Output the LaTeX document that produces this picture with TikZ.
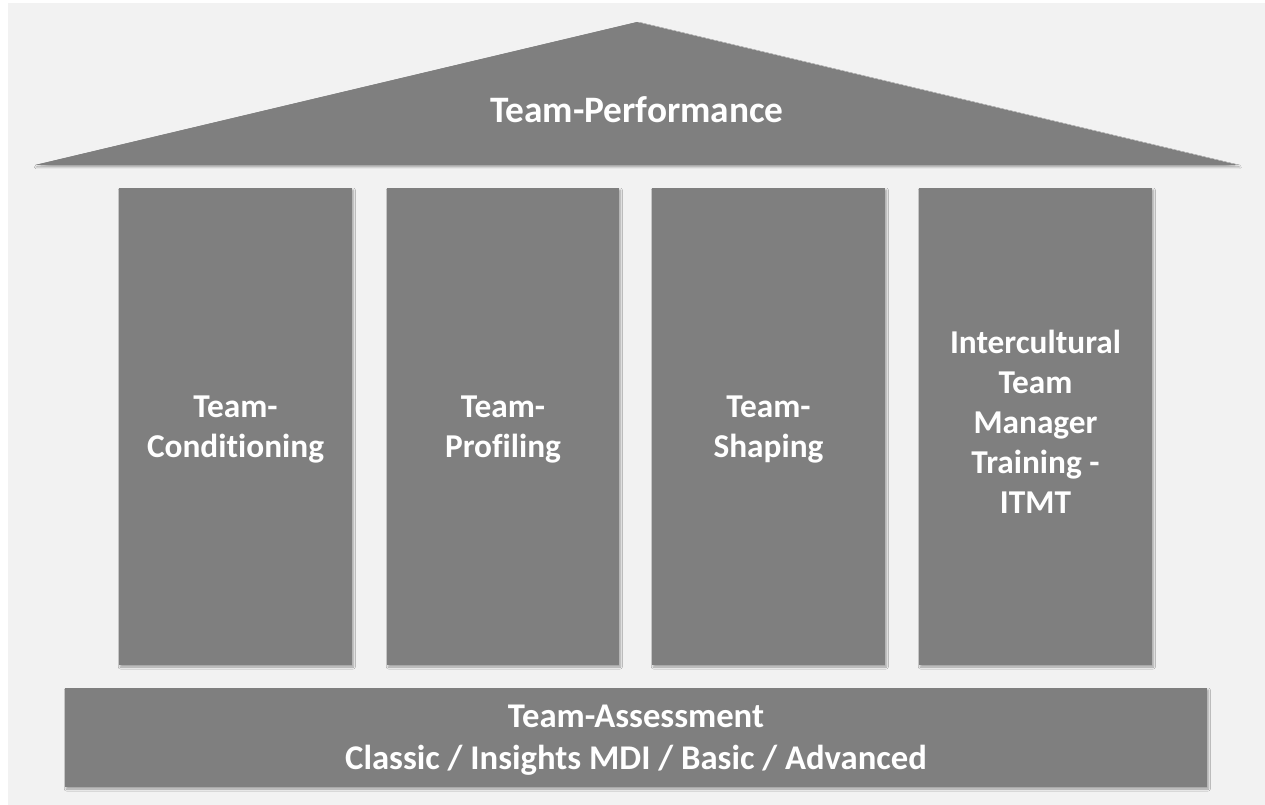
\documentclass[tikz,border=0pt]{standalone}
\usepackage{fontspec}
\setmainfont{Carlito}[Ligatures=NoCommon]
\usetikzlibrary{shadows.blur}
\definecolor{bgc}{HTML}{F2F2F2}
\definecolor{blockc}{HTML}{7F7F7F}
\tikzset{
  block/.style={fill=blockc, blur shadow={shadow blur steps=6, shadow xshift=1pt, shadow yshift=-1.5pt, shadow opacity=35, shadow blur radius=1.5pt}},
  lbl/.style={text=white, font=\fontsize{25pt}{30pt}\selectfont\bfseries, align=center, inner sep=0pt},
  biglbl/.style={lbl, font=\fontsize{28pt}{32pt}\selectfont\bfseries},
  baselbl/.style={lbl, font=\fontsize{26pt}{31.5pt}\selectfont\bfseries},
}
\begin{document}
\begin{tikzpicture}[x=0.75pt, y=-0.75pt]
\useasboundingbox (0,0) rectangle (1265,805);
\fill[white] (0,0) rectangle (1265,805);
\fill[bgc] (8,3) rectangle (1265,805);
% roof
\path[block] (35,165) -- (637,22) -- (1238,165) -- cycle;
\node[biglbl] (roof) at (637,110) {Team-Performance};
% pillars
\path[block] (119,188) rectangle (352,665);
\path[block] (387,188) rectangle (619,665);
\path[block] (652,188) rectangle (885,665);
\path[block] (919,188) rectangle (1152,665);
\node[lbl] (p1) at (235.5,430) {Team-\\Conditioning};
\node[lbl] (p2) at (503,430) {Team-\\Profiling};
\node[lbl] (p3) at (768.5,430) {Team-\\Shaping};
\node[lbl] (p4) at (1035.5,422) {Intercultural\\Team\\Manager\\Training -\\ITMT};
% base
\path[block] (65,688) rectangle (1207,787);
\node[baselbl] (base) at (636,740) {Team-Assessment\\Classic / Insights MDI / Basic / Advanced};
\end{tikzpicture}
\end{document}
